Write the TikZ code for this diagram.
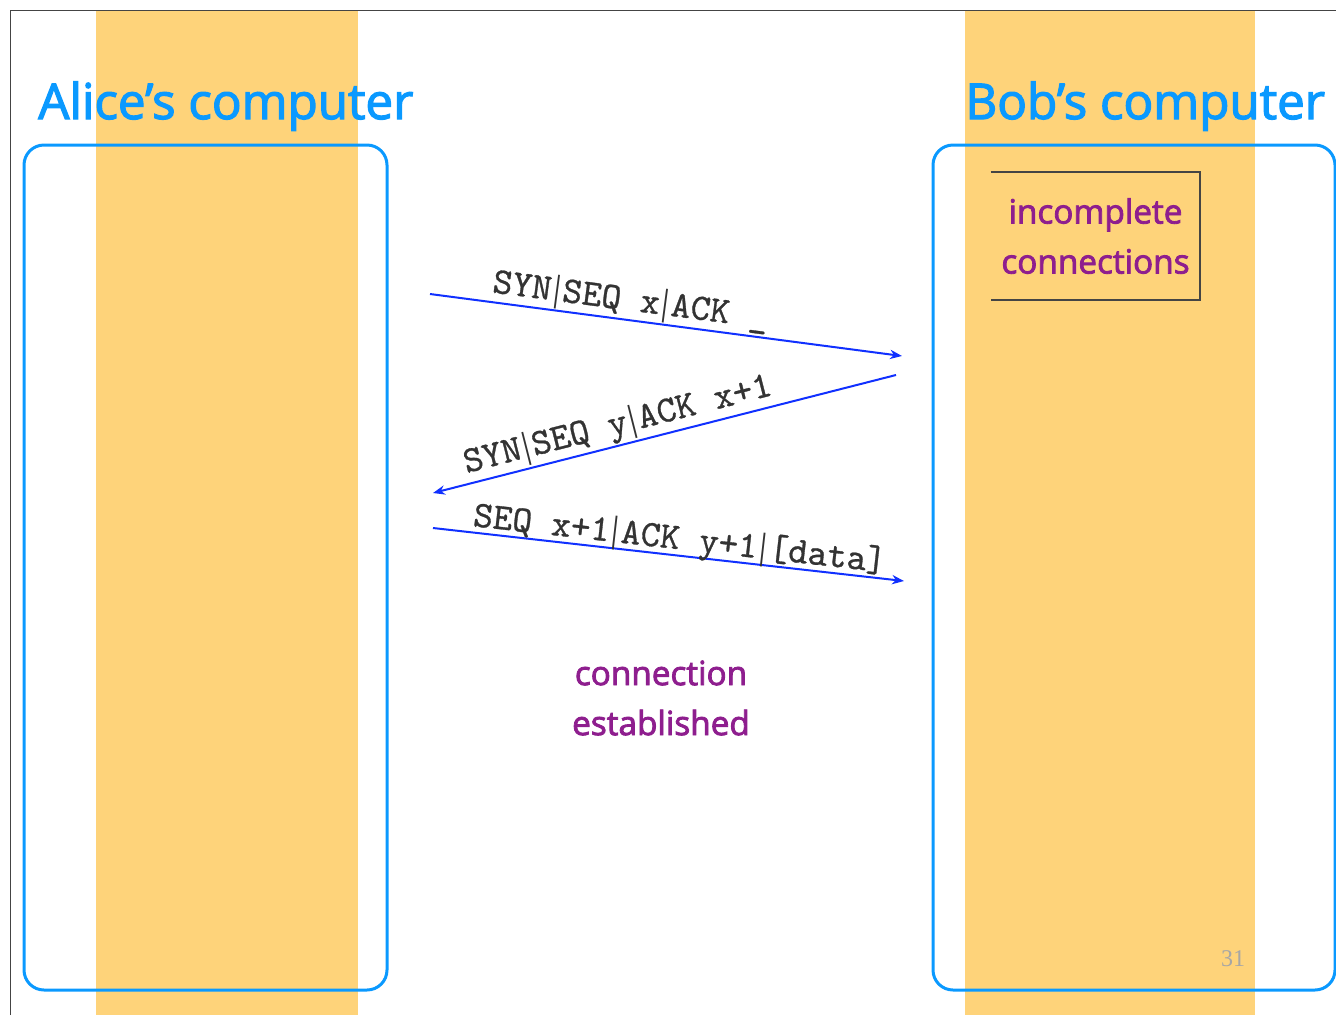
\documentclass[tikz,border=0pt]{standalone}
\usepackage{fontspec}
\setsansfont{Open Sans}[FakeBold=2.5]
\setmainfont{Liberation Serif}
\newfontfamily\msgfont{lmmono10-regular.otf}[FakeBold=0.8]
\usetikzlibrary{arrows.meta}
\definecolor{band}{RGB}{254,211,122}
\definecolor{boxblue}{RGB}{10,153,255}
\definecolor{msgblue}{RGB}{16,48,255}
\definecolor{plum}{RGB}{142,30,142}
\definecolor{msgtext}{RGB}{51,51,51}
\definecolor{framegray}{RGB}{68,68,68}
\newcommand\sepbar{\kern1.5pt{\rmfamily|}\kern1.5pt}

\begin{document}
\begin{tikzpicture}[x=0.75pt,y=-0.75pt,
		compbox/.style={draw=boxblue,line width=2.25pt,rounded corners=15pt,inner sep=0pt},
		title/.style={text=boxblue,font=\sffamily\fontsize{37}{44}\selectfont,anchor=base west,inner sep=0pt},
		note/.style={text=plum,font=\sffamily\fontsize{25}{37.5}\selectfont,align=center},
		msg/.style={draw=msgblue,line width=1.5pt,-{Stealth[length=9pt,width=7pt]}},
		msglabel/.style={text=msgtext,font=\msgfont\fontsize{28}{30}\selectfont,sloped,inner sep=0pt,text depth=0pt}]
	\useasboundingbox (0,0) rectangle (1336,1015);
	\fill[band] (96,10) rectangle (358,1015);
	\fill[band] (965,10) rectangle (1255,1015);
	\draw[framegray,line width=0.75pt] (10,1015) -- (10,10) -- (1336,10);

	\node[compbox,minimum width=272.25pt,minimum height=633.75pt] (alicebox) at (205.5,567.5) {};
	\node[compbox,minimum width=301.5pt,minimum height=633.75pt] (bobbox) at (1134,567.5) {};
	\node[title] (alice) at (38,119) {Alice’s computer};
	\node[title] (bob) at (965,119) {Bob’s computer};

	\node[note,minimum width=156.75pt,minimum height=96pt] (incomplete) at (1095.5,236) {incomplete\\connections};
	\draw[framegray,line width=1.5pt] (incomplete.north west) -| (incomplete.south east) -- (incomplete.south west);

	\coordinate (syn1) at (430,294);
	\coordinate (syn2) at (902,356);
	\coordinate (synack1) at (896,375);
	\coordinate (synack2) at (433,493);
	\coordinate (ack1) at (433,528);
	\coordinate (ack2) at (904,581);
	\draw[msg] (syn1) -- node[msglabel,pos=0.42,above=6.5pt] {SYN\sepbar SEQ x\sepbar ACK \_} (syn2);
	\draw[msg] (synack1) -- node[msglabel,pos=0.59,above=7.5pt] {SYN\sepbar SEQ y\sepbar ACK x+1} (synack2);
	\draw[msg] (ack1) -- node[msglabel,pos=0.52,above=4pt] {SEQ x+1\sepbar ACK y+1\sepbar [data]} (ack2);

	\node[note] (established) at (661,698) {connection\\established};
	\node[text=gray!70,font=\rmfamily\fontsize{18}{20}\selectfont] (pagenum) at (1233,959) {31};
\end{tikzpicture}
\end{document}
